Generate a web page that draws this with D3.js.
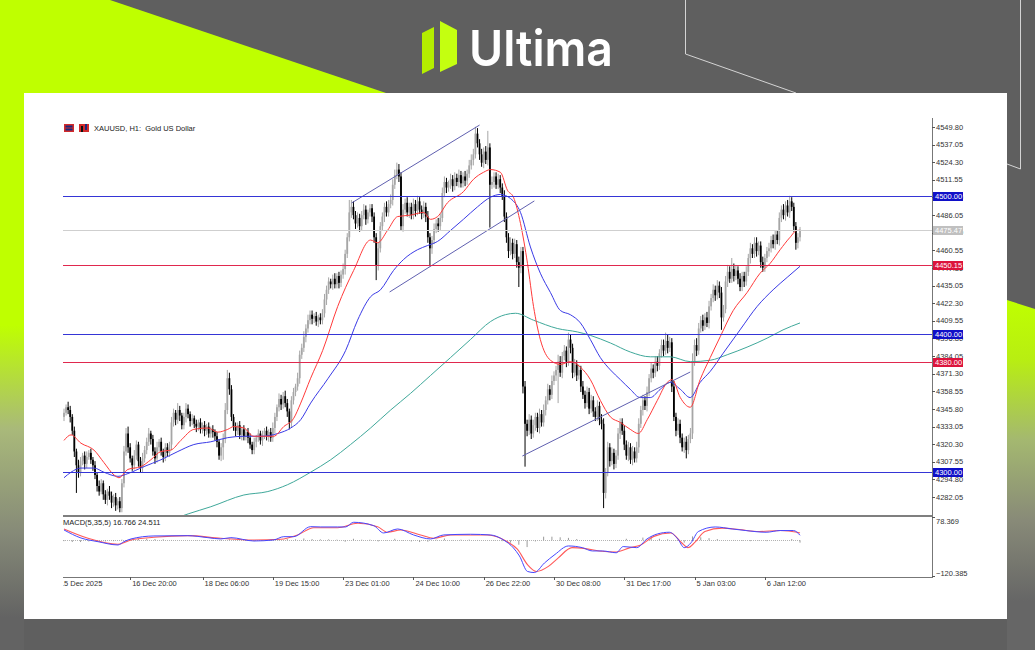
<!DOCTYPE html>
<html>
<head>
<meta charset="UTF-8">
<title>XAUUSD H1</title>
<script src="https://d3js.org/d3.v7.min.js"></script>
<style>
  body { margin: 0; background: #5f5f5f; }
  svg { display: block; }
  text { font-family: "Liberation Sans", Arial, sans-serif; }
</style>
</head>
<body>
<svg id="chart" width="1035" height="650"></svg>
<script>
// ---- data ----
const firstOpen = 4340;
const closes = [
  4343,4347,4345,4340,4330,4315,4305,4300,4308,4312,
  4306,4311,4314,4309,4305,4298,4290,4286,4292,4284,
  4280,4286,4283,4278,4282,4276,4279,4274,4292,4315,
  4328,4318,4310,4305,4312,4320,4308,4303,4310,4316,
  4322,4328,4324,4315,4310,4318,4322,4315,4311,4318,
  4314,4320,4336,4343,4338,4345,4341,4334,4340,4346,
  4342,4337,4339,4335,4333,4336,4331,4334,4330,4333,
  4328,4331,4329,4326,4322,4312,4318,4324,4345,4368,
  4360,4340,4333,4330,4334,4327,4331,4326,4329,4325,
  4320,4316,4322,4325,4328,4323,4327,4330,4326,4329,
  4325,4332,4340,4347,4353,4349,4355,4350,4344,4336,
  4352,4358,4362,4368,4385,4390,4398,4404,4410,4414,
  4411,4413,4409,4412,4410,4415,4425,4432,4438,4436,
  4440,4436,4442,4437,4443,4447,4458,4470,4488,4492,
  4486,4480,4484,4478,4486,4490,4483,4488,4491,4485,
  4470,4450,4462,4478,4485,4492,4488,4494,4497,4508,
  4515,4519,4514,4478,4490,4495,4488,4492,4486,4494,
  4489,4496,4490,4487,4492,4485,4470,4462,4468,4476,
  4480,4478,4484,4502,4510,4506,4508,4512,4507,4513,
  4510,4515,4509,4514,4511,4516,4522,4526,4530,4545,
  4538,4530,4524,4532,4526,4535,4508,4510,4514,4508,
  4512,4506,4500,4485,4470,4460,4466,4458,4465,4452,
  4448,4460,4362,4335,4330,4338,4328,4334,4340,4332,
  4342,4336,4345,4352,4360,4356,4366,4370,4374,4380,
  4372,4384,4388,4380,4396,4390,4372,4378,4370,4374,
  4362,4356,4350,4358,4346,4352,4344,4340,4348,4338,
  4335,4285,4300,4318,4308,4314,4306,4312,4328,4336,
  4330,4320,4312,4318,4309,4315,4310,4318,4335,4345,
  4352,4348,4358,4368,4375,4372,4380,4377,4386,4392,
  4388,4395,4390,4394,4362,4340,4330,4335,4325,4318,
  4322,4316,4324,4328,4380,4392,4388,4404,4410,4406,
  4412,4408,4420,4426,4432,4428,4435,4430,4412,4418,
  4438,4445,4440,4447,4442,4446,4440,4434,4442,4438,
  4445,4455,4462,4458,4466,4460,4464,4452,4448,4455,
  4460,4462,4468,4465,4472,4468,4484,4490,4486,4493,
  4488,4496,4492,4478,4466,4470,4475.47
];
const upWick = [
  3,2,4,3,2,3,2,4,3,2, 3,4,2,3,2,3,2,4,3,2, 3,2,4,3,2,3,2,3,3,4, 4,5,3,2,4,3,2,3,4,3,
  3,4,2,3,3,4,2,3,2,3, 3,2,4,3,2,5,3,2,3,4, 3,2,3,2,3,2,3,2,3,2, 3,2,3,2,3,2,3,4,5,6,
  4,3,2,3,2,3,2,3,2,3, 3,2,3,2,3,2,3,2,3,2, 3,4,3,2,4,3,3,4,3,2, 3,3,2,4,3,3,4,3,4,3,
  3,2,3,2,3,3,4,3,3,2, 3,4,2,3,3,4,3,3,9,5, 4,3,4,3,3,4,3,2,3,3, 3,3,4,3,3,3,4,3,4,4,
  4,5,4,3,4,3,4,3,3,4, 3,4,3,3,4,3,4,3,3,4, 3,4,3,4,4,3,3,4,3,4, 3,4,3,3,4,3,4,4,4,5,
  4,3,4,3,4,12,3,4,3,3, 4,3,3,4,3,3,4,3,4,3, 4,3,3,4,3,4,3,4,3,3, 4,3,4,3,4,3,4,3,3,5,
  4,3,4,3,5,4,3,4,3,4, 3,4,3,4,3,4,3,3,4,3, 4,4,3,4,3,4,3,4,4,3, 3,4,3,4,3,4,3,4,4,3,
  4,3,4,3,4,3,4,4,3,4, 4,6,5,4,3,4,3,4,3,3, 3,4,3,4,6,4,5,4,3,4, 3,4,4,3,4,3,4,3,4,3,
  4,5,4,8,4,4,3,4,3,3, 4,3,4,3,4,4,3,3,4,3, 3,4,3,4,3,3,4,3,4,3, 4,4,3,3,3,3,2
];
const dnWick = [
  3,2,3,4,3,4,20,4,3,3, 4,3,2,3,4,3,4,3,2,4, 3,4,3,4,3,4,3,3,3,3, 3,4,3,4,3,3,4,3,3,3,
  3,3,4,3,4,3,3,3,4,3, 3,3,4,3,4,3,4,3,3,4, 3,4,3,3,4,3,3,3,4,3, 3,3,4,3,4,3,4,9,3,3,
  4,3,3,4,3,3,4,3,3,4, 3,3,3,4,3,3,4,3,3,4, 3,3,4,3,3,4,3,3,4,5, 4,3,3,3,4,3,3,4,3,3,
  4,3,3,4,3,3,3,4,3,3, 4,3,3,4,3,3,4,3,3,4, 3,4,3,4,3,3,4,3,3,4, 4,11,4,3,3,4,3,3,3,4,
  3,3,4,3,4,3,3,4,3,3, 4,3,3,4,3,4,4,13,4,3, 3,4,3,3,3,4,3,3,4,3, 3,4,3,3,4,3,3,3,4,3,
  3,4,3,4,3,4,31,3,4,3, 3,4,3,4,4,5,3,4,3,4, 14,4,5,31,4,3,4,3,4,3, 4,3,3,4,3,4,3,3,4,24,
  3,4,3,4,3,4,4,3,4,3, 4,3,4,3,4,3,4,3,3,4, 4,11,4,3,4,3,4,3,3,4, 3,4,3,4,3,4,3,3,4,3,
  4,3,4,3,3,4,3,4,3,3, 4,3,4,3,4,3,4,3,4,3, 4,6,3,3,4,3,4,3,3,4, 3,3,4,3,3,4,3,4,9,3,
  3,4,3,3,4,3,4,3,3,4, 3,3,4,3,3,4,3,4,3,3, 3,4,3,3,4,3,4,3,3,4, 3,4,3,4,5,4,3
];

// moving averages: [bar index, price]
const maFast = [[0,4323],[3.4,4327],[8.2,4321],[14.5,4316],[19.3,4307],[24.2,4298],[26.6,4296],[30.9,4302],[37.2,4304],[42,4309],[46.9,4315],[51.7,4316],[56.5,4323],[62.8,4331],[69.6,4332],[74.4,4329],[79.2,4331],[82.1,4333],[87,4332],[91.8,4326],[96.6,4326],[101.4,4326],[106.3,4333],[111.1,4339],[114.5,4350],[119.3,4368],[125.1,4388],[132.4,4420],[140.1,4446],[148.3,4468],[151.7,4466],[156.5,4475],[161.4,4485],[167.6,4486],[173.9,4488],[177.3,4483],[180.7,4485],[185.5,4495],[193.2,4503],[198.1,4512],[202.9,4517],[206.3,4519],[211.1,4517],[214.5,4504],[217.4,4499],[220.8,4480],[224.2,4451],[227.1,4420],[230.4,4396],[235.3,4381],[240.1,4378],[244.9,4380],[249.8,4376],[254.6,4367],[259.4,4352],[264.3,4340],[269.1,4336],[273.9,4331],[277.8,4328],[282.1,4338],[287,4352],[291.8,4365],[294.2,4367],[298.1,4354],[302.9,4347],[307.7,4367],[312.6,4383],[317.4,4398],[323.7,4417],[330.4,4430],[336.7,4444],[341.5,4451],[346.4,4461],[351.2,4470],[354.6,4475],[356,4475]];
const maMid = [[0,4296],[3.4,4300],[8.2,4303],[14.5,4303],[19.3,4300],[26.1,4297],[30.9,4299],[38.6,4304],[46.9,4309],[55.1,4315],[62.8,4320],[71,4322],[79.2,4325],[87,4326],[95.2,4326],[103.4,4328],[109.7,4332],[114.5,4338],[119.3,4350],[127.8,4368],[136.2,4388],[142,4410],[148.3,4427],[153.1,4432],[159.4,4446],[164.3,4454],[171,4461],[175.8,4464],[180.7,4467],[187,4475],[193.2,4483],[200,4492],[206.3,4499],[211.1,4501],[216,4498],[220.8,4488],[225.6,4463],[230.4,4444],[235.3,4430],[240.1,4417],[244.9,4414],[249.8,4408],[254.6,4396],[259.4,4383],[264.3,4374],[269.1,4367],[273.9,4360],[278.7,4354],[283.6,4354],[288.4,4360],[293.2,4365],[298.1,4360],[302.9,4354],[307.7,4365],[312.6,4373],[318.8,4386],[327,4403],[335.3,4420],[343,4432],[349.8,4441],[356,4449]];
const maSlow = [[40,4262],[56.5,4268],[60.4,4270],[71,4275],[87,4283.5],[98.6,4286],[108.2,4291],[119.3,4300],[129,4309],[138.6,4320],[148.3,4332],[158,4345],[167.6,4357],[177.3,4370],[187,4383],[196.6,4396],[206.3,4409],[213.5,4414],[218.4,4415],[227.1,4410],[238.6,4404],[248.3,4401.5],[254.6,4399],[264.3,4393.5],[273.9,4387],[283.6,4383.5],[293.2,4383.5],[302.9,4380],[312.6,4381],[320.8,4385],[330.4,4390.5],[340.1,4397],[347.8,4403],[356,4408]];

// MACD(5,35,5): [bar index, value]
const macdMain = [[0,34.7],[8.2,7.7],[16.4,-4.7],[26.1,-15.8],[29,-4.7],[32.4,4.4],[43.5,14.5],[59.9,15.5],[69.6,8.8],[75.8,4.4],[80.7,8.8],[91.8,-2.4],[101.4,1],[106.3,12.1],[111.1,12.1],[119.3,45.8],[124.2,44.8],[132.4,44.8],[136.2,44.8],[140.1,60.6],[149.8,49.2],[154.6,24.6],[161.4,38.1],[169.1,17.9],[177.3,4.4],[183.6,17.9],[196.6,20.2],[206.3,17.9],[212.6,1],[217.4,-25.9],[220.3,-52.9],[224.2,-105.1],[227.5,-108.8],[232.4,-76.5],[237.5,-47.8],[244,-19.2],[250.7,-24.9],[255.6,-36],[260.4,-36],[267.1,-42.1],[270.5,-21.2],[277,-24.9],[282,4.4],[287,21.2],[292.8,27],[296.9,4.4],[300,-24.9],[303.4,-7.4],[306.8,29.3],[315,44.8],[323.2,38.1],[329.8,32.7],[339.6,27],[346.4,32.7],[352.9,32.7],[356,16.8]];
const macdSignal = [[0,38],[11.6,6.7],[26.1,-13.5],[32.4,1],[43.5,10],[59.9,15.5],[75.8,6.7],[91.8,1],[104.8,3.4],[113,17.9],[120.8,42.4],[132.4,42.4],[142,57.3],[151.7,45.8],[156.5,27],[162.8,34.7],[172.5,17.9],[178.7,6.7],[187,17.9],[204.8,17.9],[214.5,-5],[219.3,-30],[224.2,-82.2],[228.5,-105.1],[234.3,-88],[239.1,-59.3],[245.7,-24.9],[252.2,-28.3],[258.9,-36],[267.1,-39.4],[273.8,-24.9],[278.7,-16.8],[285.3,13.1],[293.5,24.6],[298.6,-7.4],[301.8,-24.9],[305.1,-7.4],[310,29.3],[318.3,40.8],[326.6,36],[336.2,29.3],[346.4,32.7],[354.6,27],[356,24.5]];
const histStep = 4;
const macdHist = [
  -3,-6,-6,-4,-5,-4,-3,2,4,5,
  5,4,3,1,0,0,-1,-2,-2,-2,
  3,1,-2,-3,-2,-1,4,4,3,6,
  4,3,3,2,-5,5,2,2,-4,-1,
  5,-2,-4,-6,-5,2,6,1,2,2,
  1,0,-1,-3,-8,-15,-23,-4,12,12,
  10,8,4,0,-4,0,-1,-1,5,0,
  9,8,5,3,-1,-8,13,10,7,4,
  0,1,-2,-3,-1,-3,-1,1,4,-8
];
const macdNow = [16.766, 24.511];
const macdRange = [-120.385, 78.369];

// axis labels
const priceTicks = [4549.80,4537.05,4524.30,4511.55,4498.80,4486.05,4473.30,4460.55,4447.80,4435.05,4422.30,4409.55,4396.80,4384.05,4371.30,4358.55,4345.80,4333.05,4320.30,4307.55,4294.80,4282.05];
const timeIdx = [-3, 32, 67, 101, 135, 169, 203, 237, 271, 305, 339];
const timeLabels = ["15 Dec 2025","16 Dec 20:00","18 Dec 06:00","19 Dec 15:00","23 Dec 01:00","24 Dec 10:00","26 Dec 22:00","30 Dec 08:00","31 Dec 17:00","5 Jan 03:00","6 Jan 12:00"];

// horizontal levels and trend lines
const levelPrices = [4500.00, 4475.47, 4450.15, 4400.00, 4380.00, 4300.00];
const levelKinds  = ["blue", "bid", "red", "blue", "red", "blue"];
const trendLines = [
  [[139.1, 4494.8], [201.0, 4551.2]],
  [[157.5, 4430.4], [227.5, 4496.3]],
  [[221.7, 4311.7], [302.9, 4372.5]]
];

// ---- drawing ----
const svg = d3.select('#chart');
const defs = svg.append('defs');

function grad(id, y1, y2, stops) {
  const g = defs.append('linearGradient').attr('id', id)
    .attr('gradientUnits', 'userSpaceOnUse')
    .attr('x1', 0).attr('x2', 0).attr('y1', y1).attr('y2', y2);
  stops.forEach(s => g.append('stop').attr('offset', s[0]).attr('stop-color', s[1]));
}
grad('leftFade', 0, 650, [[0,'#bfff00'],[0.5,'#bfff00'],[0.66,'#a9b97a'],[0.82,'#868a78'],[0.95,'#636363']]);
grad('rightFade', 300, 650, [[0,'#bfff00'],[0.17,'#b8ee12'],[0.4,'#a4b870'],[0.63,'#888a78'],[0.86,'#666666']]);

// background
svg.append('rect').attr('width', 1035).attr('height', 650).attr('fill', '#5f5f5f');
svg.append('rect').attr('width', 24).attr('height', 650).attr('fill', 'url(#leftFade)');
svg.append('polygon').attr('points', '0,0 110,0 386,93 0,93').attr('fill', '#bfff00');
svg.append('polygon').attr('points', '1007,300 1035,309 1035,650 1007,650').attr('fill', 'url(#rightFade)');
svg.append('path').attr('d', 'M685.5,0 V54 L796,93').attr('fill', 'none').attr('stroke', '#d4d4d4');
svg.append('path').attr('d', 'M1020.5,0 V169 L1007,164').attr('fill', 'none').attr('stroke', '#d4d4d4');

// logo
svg.append('polygon').attr('points', '422,33 434,27 434,68 422,74').attr('fill', '#b4ee00');
svg.append('polygon').attr('points', '440,21 457,30 457,64 440,72').attr('fill', '#c4ff10');
svg.append('text').attr('x', 469).attr('y', 66)
  .attr('textLength', 144).attr('lengthAdjust', 'spacingAndGlyphs')
  .style('font-family', 'Inter, "Noto Sans", sans-serif').style('font-weight', 600)
  .style('font-size', '50px').attr('fill', '#ffffff').text('Ultima');

// white panel
svg.append('rect').attr('x', 24).attr('y', 93).attr('width', 983).attr('height', 526).attr('fill', '#ffffff');

// scales
const x = d3.scaleLinear().domain([0, closes.length - 1]).range([64, 800]);
const y = d3.scaleLinear().domain([4282.05, 4549.80]).range([497, 127]);
const ym = d3.scaleLinear().domain(macdRange).range([576, 517]);

defs.append('clipPath').attr('id', 'mainClip').append('rect')
  .attr('x', 63).attr('y', 118).attr('width', 869).attr('height', 397);
defs.append('clipPath').attr('id', 'macdClip').append('rect')
  .attr('x', 63).attr('y', 517).attr('width', 869).attr('height', 60);
defs.append('clipPath').attr('id', 'timeClip').append('rect')
  .attr('x', 63).attr('y', 578).attr('width', 900).attr('height', 14);

const main = svg.append('g').attr('clip-path', 'url(#mainClip)');

// candles
const bars = closes.map((c, i) => {
  const o = i === 0 ? firstOpen : closes[i - 1];
  return { i, o, c, h: Math.max(o, c) + upWick[i], l: Math.min(o, c) - dnWick[i] };
});
const candleColor = d => d.c >= d.o ? '#a6a6a6' : '#000000';

main.selectAll('.wick').data(bars).enter().append('line')
  .attr('class', 'wick')
  .attr('x1', d => x(d.i)).attr('x2', d => x(d.i))
  .attr('y1', d => y(d.h)).attr('y2', d => y(d.l))
  .attr('stroke', candleColor).attr('stroke-width', 1);

main.selectAll('.body').data(bars).enter().append('rect')
  .attr('class', 'body')
  .attr('x', d => x(d.i) - 0.9).attr('width', 1.8)
  .attr('y', d => y(Math.max(d.o, d.c)))
  .attr('height', d => Math.max(1, y(Math.min(d.o, d.c)) - y(Math.max(d.o, d.c))))
  .attr('fill', candleColor);

// moving averages
const maLine = d3.line().x(d => x(d[0])).y(d => y(d[1])).curve(d3.curveMonotoneX);
[[maSlow, '#3fa89a'], [maMid, '#3a3ae6'], [maFast, '#ff3a3a']].forEach(m => {
  main.append('path').datum(m[0]).attr('d', maLine)
    .attr('fill', 'none').attr('stroke', m[1]).attr('stroke-width', 1);
});

// levels
const levelColor = { blue: '#3535d6', red: '#e0284e', bid: '#cfcfcf' };
const levelFill = { blue: '#1010c8', red: '#dc143c', bid: '#c0c0c0' };
svg.selectAll('.level').data(levelPrices).enter().append('line')
  .attr('class', 'level')
  .attr('x1', 63).attr('x2', 932)
  .attr('y1', d => Math.round(y(d)) + 0.5).attr('y2', d => Math.round(y(d)) + 0.5)
  .attr('stroke', (d, i) => levelColor[levelKinds[i]]).attr('stroke-width', 1);

// trend lines
main.selectAll('.trend').data(trendLines).enter().append('line')
  .attr('class', 'trend')
  .attr('x1', d => x(d[0][0])).attr('y1', d => y(d[0][1]))
  .attr('x2', d => x(d[1][0])).attr('y2', d => y(d[1][1]))
  .attr('stroke', '#6060b0').attr('stroke-width', 1);

// legend
const lg = svg.append('g');
lg.append('rect').attr('x', 64).attr('y', 124).attr('width', 10).attr('height', 8).attr('fill', '#d22a2a');
lg.append('rect').attr('x', 65.5).attr('y', 125.5).attr('width', 7).attr('height', 2).attr('fill', '#1a2a80');
lg.append('rect').attr('x', 65.5).attr('y', 128.5).attr('width', 7).attr('height', 2).attr('fill', '#1a2a80');
lg.append('rect').attr('x', 79).attr('y', 124).attr('width', 10).attr('height', 8).attr('fill', '#d22a2a');
lg.append('rect').attr('x', 81).attr('y', 126).attr('width', 2).attr('height', 6).attr('fill', '#101010');
lg.append('rect').attr('x', 85).attr('y', 124).attr('width', 2).attr('height', 6).attr('fill', '#1a2a80');
lg.append('text').attr('x', 94).attr('y', 131).style('white-space', 'pre')
  .style('font-size', '7.5px').attr('fill', '#222').text('XAUUSD, H1:  Gold US Dollar');

// panel separators and axes
svg.append('rect').attr('x', 63).attr('y', 515).attr('width', 869).attr('height', 2).attr('fill', '#7f7f7f');
svg.append('line').attr('x1', 932.5).attr('x2', 932.5).attr('y1', 118).attr('y2', 578)
  .attr('stroke', '#777').attr('shape-rendering', 'crispEdges');
svg.append('line').attr('x1', 63).attr('x2', 933).attr('y1', 577.5).attr('y2', 577.5)
  .attr('stroke', '#777').attr('shape-rendering', 'crispEdges');

// price axis
const fmt = d3.format('.2f');
svg.selectAll('.ptick').data(priceTicks).enter().append('line')
  .attr('x1', 932).attr('x2', 935)
  .attr('y1', d => Math.round(y(d)) + 0.5).attr('y2', d => Math.round(y(d)) + 0.5)
  .attr('stroke', '#555');
svg.selectAll('.plabel').data(priceTicks).enter().append('text')
  .attr('x', 936).attr('y', d => y(d)).attr('dy', '0.35em')
  .style('font-size', '7.5px').attr('fill', '#333').text(d => fmt(d));

// level price boxes
const boxes = svg.selectAll('.lbox').data(levelPrices).enter().append('g');
boxes.append('rect').attr('x', 933).attr('y', d => Math.round(y(d)) - 4)
  .attr('width', 30).attr('height', 9)
  .attr('fill', (d, i) => levelFill[levelKinds[i]]);
boxes.append('text').attr('x', 935).attr('y', d => Math.round(y(d)) + 0.5).attr('dy', '0.35em')
  .style('font-size', '7.5px').attr('fill', '#ffffff').text(d => fmt(d));

// MACD panel
const mg = svg.append('g').attr('clip-path', 'url(#macdClip)');
mg.append('line').attr('x1', 63).attr('x2', 800).attr('y1', Math.round(ym(0)) + 0.5).attr('y2', Math.round(ym(0)) + 0.5)
  .attr('stroke', '#b4b4b4').attr('stroke-dasharray', '1,1');
mg.selectAll('.hist').data(macdHist).enter().append('line')
  .attr('x1', (d, i) => x(i * histStep)).attr('x2', (d, i) => x(i * histStep))
  .attr('y1', ym(0)).attr('y2', d => ym(d))
  .attr('stroke', '#9a9a9a').attr('stroke-width', 1);
const mLine = d3.line().x(d => x(d[0])).y(d => ym(d[1])).curve(d3.curveMonotoneX);
mg.append('path').datum(macdSignal).attr('d', mLine).attr('fill', 'none').attr('stroke', '#ff5a5a').attr('stroke-width', 1.1);
mg.append('path').datum(macdMain).attr('d', mLine).attr('fill', 'none').attr('stroke', '#4646ff').attr('stroke-width', 1);

svg.append('text').attr('x', 63).attr('y', 525)
  .style('font-size', '7.5px').attr('fill', '#222')
  .text('MACD(5,35,5) ' + macdNow[0].toFixed(3) + ' ' + macdNow[1].toFixed(3));

svg.selectAll('.mtick').data(macdRange).enter().append('line')
  .attr('x1', 932).attr('x2', 935)
  .attr('y1', d => Math.round(ym(d)) + 0.5).attr('y2', d => Math.round(ym(d)) + 0.5)
  .attr('stroke', '#555');
svg.selectAll('.mlabel').data(macdRange).enter().append('text')
  .attr('x', 936).attr('y', d => d > 0 ? ym(d) + 4 : ym(d) - 3).attr('dy', '0.35em')
  .style('font-size', '7.5px').attr('fill', '#333').text(d => d3.format('.3f')(d));

// time axis
svg.selectAll('.ttick').data(timeIdx.filter(d => x(d) >= 63)).enter().append('line')
  .attr('x1', d => Math.round(x(d)) + 0.5).attr('x2', d => Math.round(x(d)) + 0.5)
  .attr('y1', 577).attr('y2', 580).attr('stroke', '#555');
svg.append('g').attr('clip-path', 'url(#timeClip)')
  .selectAll('text').data(timeLabels).enter().append('text')
  .attr('x', (d, i) => x(timeIdx[i]) + 2).attr('y', 585.5)
  .style('font-size', '7.5px').attr('fill', '#333').text(d => d);
</script>
</body>
</html>
